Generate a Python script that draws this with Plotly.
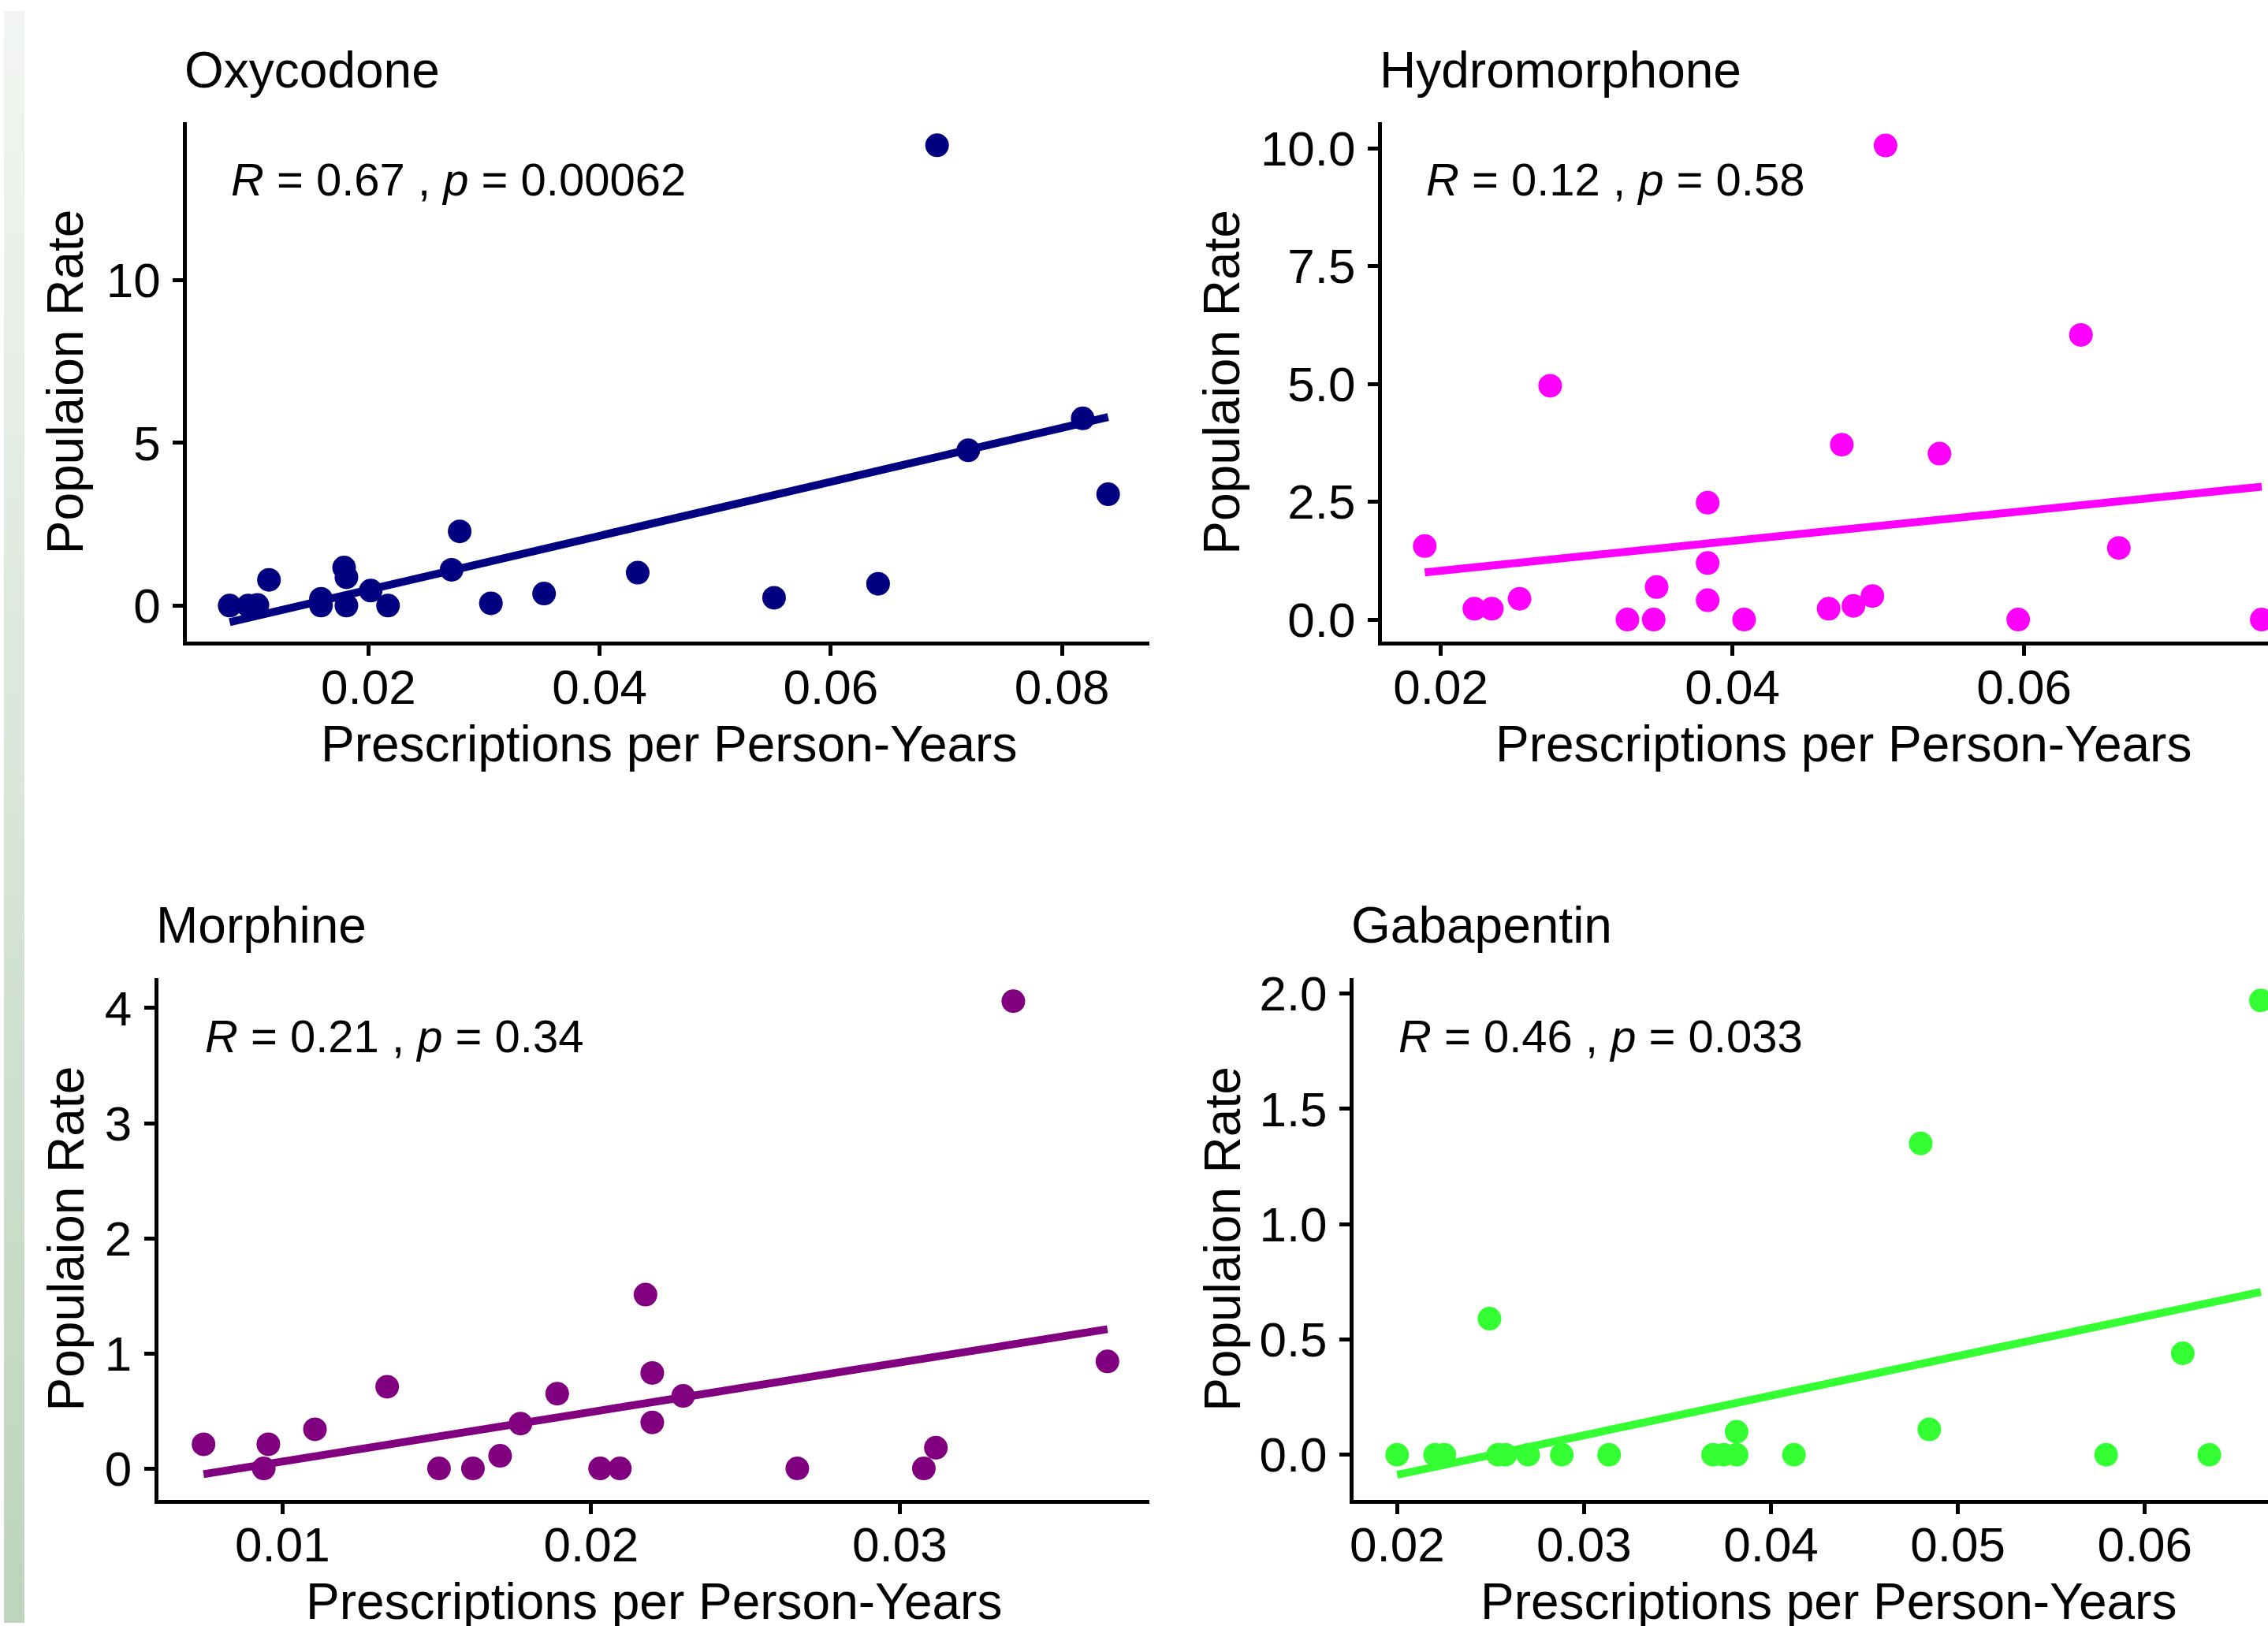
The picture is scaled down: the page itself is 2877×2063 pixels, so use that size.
import numpy as np
import plotly.graph_objects as go

# ---------------- data ----------------
panel_titles = ["Oxycodone", "Hydromorphone", "Morphine", "Gabapentin"]
stat_labels = ["<i>R</i> = 0.67 , <i>p</i> = 0.00062",
               "<i>R</i> = 0.12 , <i>p</i> = 0.58",
               "<i>R</i> = 0.21 , <i>p</i> = 0.34",
               "<i>R</i> = 0.46 , <i>p</i> = 0.033"]

oxy_x = [0.0080, 0.0096, 0.0104, 0.0114, 0.0159, 0.0159, 0.0179, 0.0181, 0.0181, 0.0202, 0.0217,
         0.0272, 0.0279, 0.0306, 0.0352, 0.0433, 0.0551, 0.0641, 0.0692, 0.0719, 0.0818, 0.0840]
oxy_y = [0.0, 0.0, 0.02, 0.79, 0.21, 0.0, 1.17, 0.87, 0.0, 0.46, 0.0,
         1.10, 2.28, 0.07, 0.37, 1.01, 0.24, 0.67, 14.14, 4.77, 5.75, 3.42]
oxy_fit_x = [0.0080, 0.0840]
oxy_fit_y = [-0.51, 5.79]

hydro_x = [0.0189, 0.0223, 0.0235, 0.0254, 0.0275, 0.0328, 0.0346, 0.0348, 0.0383, 0.0383, 0.0383,
           0.0408, 0.0466, 0.0475, 0.0483, 0.0496, 0.0505, 0.0542, 0.0596, 0.0639, 0.0665, 0.0763]
hydro_y = [1.56, 0.23, 0.23, 0.44, 4.96, 0.0, 0.0, 0.69, 2.48, 1.20, 0.41,
           0.0, 0.23, 3.71, 0.29, 0.50, 10.06, 3.52, 0.0, 6.04, 1.52, 0.0]
hydro_fit_x = [0.0189, 0.0763]
hydro_fit_y = [1.00, 2.82]

morph_x = [0.00744, 0.00939, 0.00954, 0.01105, 0.01339, 0.01507, 0.01617, 0.01705, 0.01771, 0.01890,
           0.02029, 0.02093, 0.02176, 0.02198, 0.02198, 0.02298, 0.02668, 0.03078, 0.03117, 0.03368, 0.03673]
morph_y = [0.21, 0.0, 0.21, 0.34, 0.71, 0.0, 0.0, 0.11, 0.39, 0.65,
           0.0, 0.0, 1.51, 0.83, 0.40, 0.63, 0.0, 0.0, 0.18, 4.06, 0.93]
morph_fit_x = [0.00744, 0.03673]
morph_fit_y = [-0.05, 1.21]

gaba_x = [0.02000, 0.02203, 0.02253, 0.02494, 0.02540, 0.02579, 0.02701, 0.02881, 0.03134, 0.03690,
          0.03747, 0.03816, 0.03816, 0.04123, 0.04801, 0.04847, 0.05793, 0.06203, 0.06345, 0.06621]
gaba_y = [0.0, 0.0, 0.0, 0.59, 0.0, 0.0, 0.0, 0.0, 0.0, 0.0,
          0.0, 0.10, 0.0, 0.0, 1.35, 0.11, 0.0, 0.44, 0.0, 1.97]
gaba_fit_x = [0.02000, 0.06621]
gaba_fit_y = [-0.087, 0.706]

oxy_xticks = [0.02, 0.04, 0.06, 0.08]
oxy_yticks = [0, 5, 10]
hydro_xticks = [0.02, 0.04, 0.06]
hydro_yticks = [0.0, 2.5, 5.0, 7.5, 10.0]
morph_xticks = [0.01, 0.02, 0.03]
morph_yticks = [0, 1, 2, 3, 4]
gaba_xticks = [0.02, 0.03, 0.04, 0.05, 0.06]
gaba_yticks = [0.0, 0.5, 1.0, 1.5, 2.0]

x_title = "Prescriptions per Person-Years"
y_title = "Populaion Rate"

# ---------------- styling / layout ----------------
W, H = 2877, 2063
FONT = "Liberation Sans, Arial, Helvetica, sans-serif"
colors = ["#000080", "#FF00FF", "#800080", "#33FF33"]

panels = [
    dict(x=oxy_x, y=oxy_y, fx=oxy_fit_x, fy=oxy_fit_y, xt=oxy_xticks, yt=oxy_yticks, yfmt="",
         xr=[0.0043, 0.0876], yr=[-1.11, 14.86],
         xd=[232.5, 1456], yd=[142, 808], ytitle_x=79, xtitle_cx=845),
    dict(x=hydro_x, y=hydro_y, fx=hydro_fit_x, fy=hydro_fit_y, xt=hydro_xticks, yt=hydro_yticks, yfmt=".1f",
         xr=[0.01596, 0.07673], yr=[-0.47, 10.56],
         xd=[1751, 2877], yd=[142, 808], ytitle_x=1548, xtitle_cx=2338),
    dict(x=morph_x, y=morph_y, fx=morph_fit_x, fy=morph_fit_y, xt=morph_xticks, yt=morph_yticks, yfmt="",
         xr=[0.00597, 0.0381], yr=[-0.27, 4.263],
         xd=[196, 1456], yd=[1238.6, 1907], ytitle_x=79, xtitle_cx=826),
    dict(x=gaba_x, y=gaba_y, fx=gaba_fit_x, fy=gaba_fit_y, xt=gaba_xticks, yt=gaba_yticks, yfmt=".1f",
         xr=[0.01767, 0.06659], yr=[-0.194, 2.068],
         xd=[1715, 2877], yd=[1238.6, 1907], ytitle_x=1548, xtitle_cx=2319),
]

fig = go.Figure()
layout = dict(width=W, height=H, margin=dict(l=0, r=0, t=0, b=0),
              paper_bgcolor="white", plot_bgcolor="white", showlegend=False,
              font=dict(family=FONT, color="black"))
annotations = []
shapes = []

for i, p in enumerate(panels):
    n = "" if i == 0 else str(i + 1)
    xa, ya = "x" + n, "y" + n
    # regression line
    fig.add_trace(go.Scatter(x=p["fx"], y=p["fy"], mode="lines", xaxis=xa, yaxis=ya,
                             line=dict(color=colors[i], width=10)))
    # points
    fig.add_trace(go.Scatter(x=p["x"], y=p["y"], mode="markers", xaxis=xa, yaxis=ya,
                             marker=dict(size=30, color=colors[i], line=dict(width=0))))
    axis_common = dict(showline=True, linecolor="black", linewidth=5, ticks="outside", ticklen=13,
                       tickwidth=5, tickcolor="black", showgrid=False, zeroline=False,
                       tickfont=dict(size=62, color="black", family=FONT))
    layout["xaxis" + n] = dict(axis_common, domain=[p["xd"][0] / W, min(1.0, p["xd"][1] / W)],
                               range=p["xr"], tickvals=p["xt"], anchor=ya, ticklabelstandoff=-14)
    layout["yaxis" + n] = dict(axis_common, domain=[1 - p["yd"][1] / H, 1 - p["yd"][0] / H],
                               range=p["yr"], tickvals=p["yt"], tickformat=p["yfmt"], anchor=xa,
                               ticklabelstandoff=3)
    # panel title
    annotations.append(dict(text=panel_titles[i], xref=xa + " domain", yref=ya + " domain",
                            x=0, y=1.10, xanchor="left", yanchor="middle", showarrow=False, xshift=-5,
                            font=dict(size=64, color="black", family=FONT)))
    # stat label
    annotations.append(dict(text=stat_labels[i], xref=xa, yref=ya + " domain",
                            x=float(min(p["x"])), y=0.889, xanchor="left", yanchor="middle", showarrow=False,
                            font=dict(size=58, color="black", family=FONT)))
    # axis titles
    xt_y = p["yd"][1] + 131
    annotations.append(dict(text=x_title, xref="paper", yref="paper", x=p["xtitle_cx"] / W, y=1 - xt_y / H,
                            xanchor="center", yanchor="middle", showarrow=False,
                            font=dict(size=64, color="black", family=FONT)))
    annotations.append(dict(text=y_title, xref="paper", yref="paper", x=p["ytitle_x"] / W,
                            y=1 - (p["yd"][0] + p["yd"][1]) / 2 / H, textangle=-90,
                            xanchor="center", yanchor="middle", showarrow=False,
                            font=dict(size=64, color="black", family=FONT)))

# decorative green gradient strip at the left edge
top_rgb = np.array([243, 246, 242])
bot_rgb = np.array([189, 213, 189])
nstep = 80
for k in range(nstep):
    t = (k + 0.5) / nstep
    c = top_rgb + (bot_rgb - top_rgb) * t
    shapes.append(dict(type="rect", xref="paper", yref="paper", x0=0, x1=26 / W,
                       y0=1 - (k + 1) / nstep - 0.001, y1=1 - k / nstep,
                       fillcolor="rgb(%d,%d,%d)" % tuple(c.astype(int)), line=dict(width=0),
                       layer="below"))

layout["annotations"] = annotations
layout["shapes"] = shapes
fig.update_layout(**layout)
fig.write_html("out.html", config={"displayModeBar": False},
               post_script="document.body.style.margin='0';document.body.style.overflow='hidden';")
